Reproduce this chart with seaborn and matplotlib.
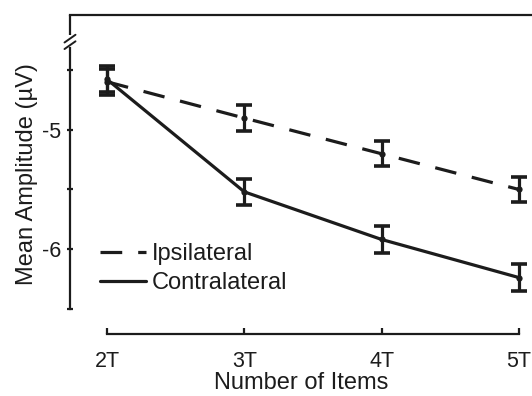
import numpy as np
import pandas as pd
import matplotlib
matplotlib.use("Agg")
import matplotlib.pyplot as plt
import seaborn as sns

items = ["2T", "3T", "4T", "5T"]
ipsilateral = [-4.595, -4.90, -5.20, -5.50]
ipsilateral_err = [0.11, 0.11, 0.105, 0.105]
contralateral = [-4.575, -5.52, -5.92, -6.24]
contralateral_err = [0.11, 0.11, 0.11, 0.11]
y_ticks = [-6.5, -6.0, -5.5, -5.0, -4.5]
y_ticklabels = ["", "-6", "", "-5", ""]

sns.set_theme(style="white")
plt.rcParams["font.family"] = ["Liberation Sans", "DejaVu Sans"]

df = pd.DataFrame({
    "Items": items * 2,
    "pos": list(range(len(items))) * 2,
    "Amplitude": ipsilateral + contralateral,
    "err": ipsilateral_err + contralateral_err,
    "Side": ["Ipsilateral"] * len(items) + ["Contralateral"] * len(items),
})

fig = plt.figure(figsize=(5.32, 3.96), dpi=100)
ax = fig.add_axes([70 / 532, 62 / 396, 1 - 70 / 532, (334 - 15) / 396])

ink = "#1c1c1c"
styles = {"Ipsilateral": (0, (6.8, 5.0)), "Contralateral": "-"}
for side, sub in df.groupby("Side", sort=False):
    sns.lineplot(data=sub, x="pos", y="Amplitude", ax=ax, color=ink, lw=2.3,
                 linestyle=styles[side], label=side, marker="o", markersize=4.5,
                 markeredgewidth=0, errorbar=None)
    ax.errorbar(sub["pos"], sub["Amplitude"], yerr=sub["err"], fmt="none",
                ecolor=ink, elinewidth=2.3, capsize=6, capthick=2.6)

ax.set_xlim(-0.27, 3.095)
ax.set_ylim(-6.714, -4.034)
ax.set_xticks(range(len(items)))
ax.set_xticklabels(items)
ax.set_yticks(y_ticks)
ax.set_yticklabels(y_ticklabels)
ax.tick_params(axis="both", which="major", bottom=True, left=True,
               direction="inout", length=5, width=1.6, colors=ink,
               labelcolor=ink, labelsize=15.5, pad=4)
ax.tick_params(axis="x", direction="in", length=4, pad=12)

for s in ["left", "bottom", "top"]:
    ax.spines[s].set_color(ink)
    ax.spines[s].set_linewidth(1.6)
ax.spines["right"].set_visible(False)
ax.spines["left"].set_bounds(-6.5, -4.31)
ax.spines["bottom"].set_bounds(0, 3)

# axis break on the y axis
ax.plot([-0.27, -0.27], [-4.20, -4.034], color=ink, lw=1.6, clip_on=False,
        solid_capstyle="butt")
for dy in (0.0, 0.055):
    ax.plot([-0.31, -0.23], [-4.32 + dy, -4.255 + dy], color=ink, lw=1.4,
            clip_on=False)

ax.set_xlabel("Number of Items", fontsize=17, color=ink, labelpad=0)
ax.set_ylabel("Mean Amplitude (\u00b5V)", fontsize=17, color=ink, labelpad=3)

leg = ax.legend(loc="lower left", bbox_to_anchor=(0.044, 0.095), frameon=False,
                fontsize=17, handlelength=1.95, handletextpad=0.25,
                labelspacing=0.3, borderaxespad=0)
for h in leg.get_lines():
    h.set_marker("")
for t in leg.get_texts():
    t.set_color(ink)

fig.savefig("out.png", dpi=100)
